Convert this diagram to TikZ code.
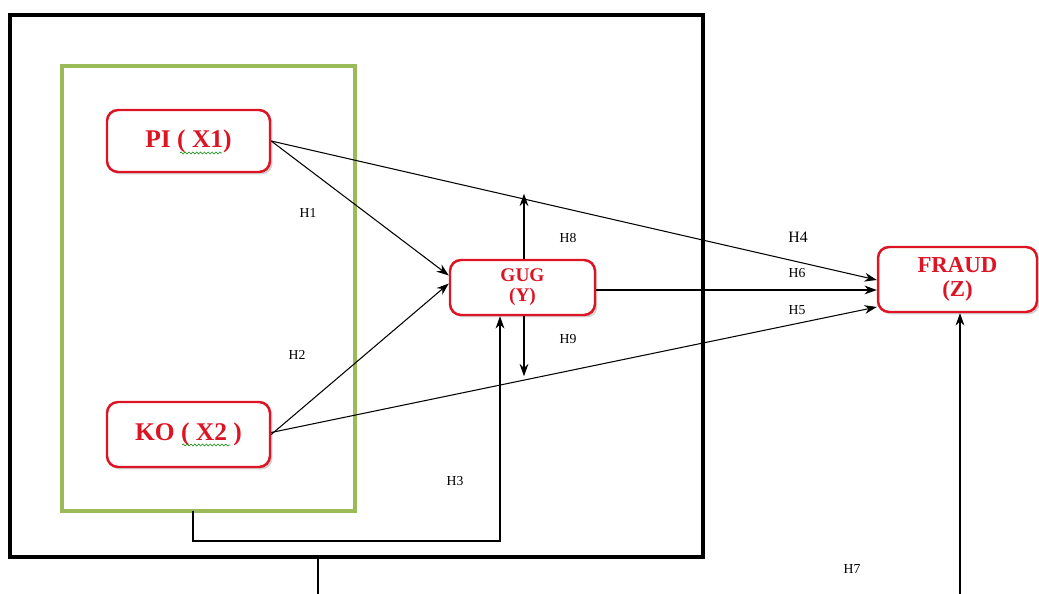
\documentclass[tikz,border=0pt]{standalone}
\usepackage{fontspec}
\setmainfont{Liberation Serif}
\usetikzlibrary{arrows.meta,shadows,calc,decorations.pathmorphing}
\definecolor{boxred}{RGB}{220,20,35}
\definecolor{grpgreen}{RGB}{155,187,89}
\tikzset{
  var/.style={draw=boxred, line width=1.4pt, rounded corners=0.22cm, fill=white,
    drop shadow={shadow xshift=0.05cm, shadow yshift=-0.05cm, fill=black!35},
    text=boxred, font=\bfseries, align=center, inner sep=0pt},
  conn/.style={line width=0.6pt, -{Stealth[length=7pt,width=5pt]}},
  plain/.style={line width=0.6pt},
  hlab/.style={font=\fontsize{7.8}{9}\selectfont, inner sep=0pt},
  wavy/.style={draw=green!55!black, line width=0.3pt, decorate,
    decoration={snake, amplitude=0.6pt, segment length=2.2pt}}
}
\begin{document}
\begin{tikzpicture}[x=0.02cm, y=-0.02cm]
\useasboundingbox (0,0) rectangle (1039,594);
% outer black frame
\node[draw=black, line width=2.3pt, minimum width=13.86cm, minimum height=10.84cm, inner sep=0pt] (frame) at (356.5,286) {};
% green group
\node[draw=grpgreen, line width=2.3pt, minimum width=5.86cm, minimum height=8.9cm, inner sep=0pt] (grp) at (208.5,288.5) {};
% variable nodes
\node[var, minimum width=3.26cm, minimum height=1.24cm, font=\bfseries\fontsize{14.5}{16}\selectfont] (pi) at (188.5,141) {PI ( X1)};
\node[var, minimum width=3.26cm, minimum height=1.3cm, font=\bfseries\fontsize{14.5}{16}\selectfont] (ko) at (188.5,434.5) {KO ( X2 )};
\node[var, minimum width=2.9cm, minimum height=1.1cm, font=\bfseries\fontsize{11}{11.5}\selectfont] (gug) at (522.5,287.5) {GUG\\(Y)};
\node[var, minimum width=3.18cm, minimum height=1.3cm, font=\bfseries\fontsize{13}{14}\selectfont] (fraud) at (957.5,279.5) {FRAUD\\(Z)};
% wavy spell-check underlines
\draw[wavy] (180,153) -- (222,153);
\draw[wavy] (182,445) -- (230,445);
% connectors
\draw[conn] (pi.east) -- ($(gug.west)+(0,-12)$);
\draw[conn] (ko.east) -- ($(gug.west)+(0,-4)$);
\draw[conn] (pi.east) -- ($(fraud.west)+(0,0.5)$);
\draw[conn] ($(ko.east)+(0,-2)$) -- ($(fraud.west)+(0,27.5)$);
\draw[conn] ($(gug.east)+(0,2.5)$) -- ($(fraud.west)+(0,10.5)$);
\draw[conn] ($(gug.north)+(1.5,0)$) -- ++(0,-65);
\draw[conn] ($(gug.south)+(1.5,0)$) -- ++(0,60);
\coordinate (h3s) at (193,511);
\draw[conn] (h3s) -- ++(0,30) -| ($(gug.south)+(-22.5,0)$);
\coordinate (h7a) at (318,557);
\coordinate (h7b) at (318,594);
\draw[plain] (h7a) -- (h7b);
\coordinate (h7c) at (960,594);
\draw[conn] (h7c) -- (h7c |- fraud.south);
% labels
\node[hlab] (l1) at (308,213) {H1};
\node[hlab] (l2) at (297,355) {H2};
\node[hlab] (l3) at (455,481) {H3};
\node[hlab, font=\fontsize{9}{10}\selectfont] (l4) at (798,237) {H4};
\node[hlab] (l6) at (797,273) {H6};
\node[hlab] (l5) at (797,310) {H5};
\node[hlab] (l8) at (568,238) {H8};
\node[hlab] (l9) at (568,339) {H9};
\node[hlab] (l7) at (852,569) {H7};
\end{tikzpicture}
\end{document}
